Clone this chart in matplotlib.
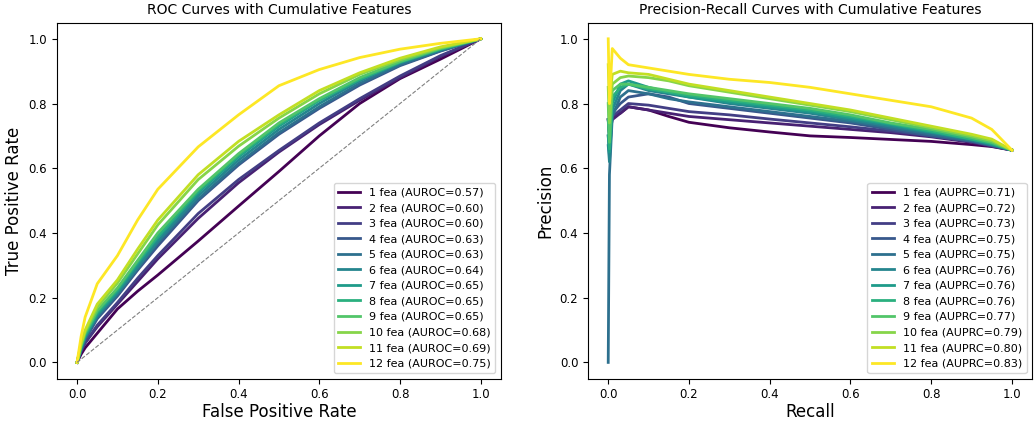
import numpy as np
import matplotlib
matplotlib.use("Agg")
import matplotlib.pyplot as plt

# ROC curves (tpr read at these fpr values)
fpr_grid = [0, 0.01, 0.02, 0.05, 0.1, 0.15, 0.2, 0.3, 0.4, 0.5, 0.6, 0.7, 0.8, 0.9, 1.0]
tpr_1 = [0, 0.025, 0.045, 0.09, 0.165, 0.22, 0.27, 0.375, 0.483, 0.59, 0.70, 0.80, 0.877, 0.937, 1.0]
tpr_2 = [0, 0.035, 0.06, 0.11, 0.18, 0.25, 0.32, 0.445, 0.555, 0.65, 0.735, 0.81, 0.88, 0.945, 1.0]
tpr_3 = [0, 0.035, 0.06, 0.115, 0.185, 0.26, 0.33, 0.46, 0.565, 0.655, 0.74, 0.815, 0.885, 0.948, 1.0]
tpr_4 = [0, 0.04, 0.07, 0.135, 0.205, 0.285, 0.36, 0.50, 0.61, 0.705, 0.785, 0.857, 0.917, 0.962, 1.0]
tpr_5 = [0, 0.04, 0.075, 0.14, 0.21, 0.29, 0.37, 0.505, 0.615, 0.71, 0.79, 0.862, 0.92, 0.963, 1.0]
tpr_6 = [0, 0.045, 0.08, 0.145, 0.215, 0.295, 0.375, 0.515, 0.625, 0.72, 0.80, 0.87, 0.925, 0.966, 1.0]
tpr_7 = [0, 0.045, 0.08, 0.15, 0.22, 0.305, 0.385, 0.525, 0.635, 0.73, 0.81, 0.875, 0.928, 0.968, 1.0]
tpr_8 = [0, 0.05, 0.085, 0.155, 0.225, 0.31, 0.39, 0.53, 0.64, 0.735, 0.81, 0.875, 0.928, 0.968, 1.0]
tpr_9 = [0, 0.05, 0.09, 0.16, 0.23, 0.315, 0.40, 0.535, 0.645, 0.74, 0.815, 0.88, 0.93, 0.97, 1.0]
tpr_10 = [0, 0.055, 0.095, 0.17, 0.245, 0.335, 0.425, 0.565, 0.668, 0.755, 0.83, 0.89, 0.935, 0.972, 1.0]
tpr_11 = [0, 0.06, 0.10, 0.18, 0.255, 0.35, 0.44, 0.58, 0.683, 0.765, 0.84, 0.895, 0.94, 0.975, 1.0]
tpr_12 = [0, 0.08, 0.14, 0.243, 0.33, 0.44, 0.535, 0.666, 0.765, 0.855, 0.905, 0.942, 0.968, 0.986, 1.0]
aurocs = [0.57, 0.60, 0.60, 0.63, 0.63, 0.64, 0.65, 0.65, 0.65, 0.68, 0.69, 0.75]

# PR curves (precision read at these recall values)
rec_grid = [0, 0.003, 0.01, 0.03, 0.05, 0.1, 0.15, 0.2, 0.3, 0.4, 0.5, 0.6, 0.7, 0.8, 0.9, 0.95, 1.0]
prec_1 = [0.75, 0.70, 0.76, 0.77, 0.79, 0.78, 0.76, 0.742, 0.725, 0.712, 0.70, 0.695, 0.689, 0.683, 0.673, 0.667, 0.656]
prec_2 = [0.75, 0.70, 0.75, 0.77, 0.79, 0.78, 0.77, 0.76, 0.75, 0.74, 0.73, 0.72, 0.71, 0.697, 0.68, 0.668, 0.656]
prec_3 = [0.75, 0.72, 0.76, 0.78, 0.80, 0.795, 0.785, 0.775, 0.765, 0.752, 0.74, 0.728, 0.715, 0.70, 0.683, 0.67, 0.656]
prec_4 = [0.70, 0.64, 0.77, 0.80, 0.82, 0.83, 0.82, 0.80, 0.785, 0.77, 0.755, 0.74, 0.72, 0.70, 0.683, 0.67, 0.656]
prec_5 = [0.0, 0.58, 0.76, 0.82, 0.84, 0.83, 0.815, 0.805, 0.79, 0.775, 0.76, 0.745, 0.725, 0.705, 0.685, 0.672, 0.656]
prec_6 = [0.67, 0.62, 0.78, 0.84, 0.86, 0.84, 0.83, 0.82, 0.80, 0.785, 0.77, 0.75, 0.73, 0.71, 0.688, 0.673, 0.656]
prec_7 = [0.70, 0.65, 0.80, 0.86, 0.87, 0.85, 0.835, 0.82, 0.805, 0.79, 0.775, 0.755, 0.735, 0.712, 0.69, 0.675, 0.656]
prec_8 = [0.75, 0.66, 0.82, 0.85, 0.86, 0.845, 0.835, 0.825, 0.81, 0.795, 0.78, 0.76, 0.738, 0.715, 0.69, 0.677, 0.656]
prec_9 = [0.80, 0.68, 0.84, 0.86, 0.86, 0.85, 0.84, 0.83, 0.815, 0.80, 0.785, 0.765, 0.74, 0.72, 0.695, 0.68, 0.656]
prec_10 = [0.85, 0.74, 0.86, 0.88, 0.885, 0.88, 0.87, 0.855, 0.835, 0.815, 0.795, 0.775, 0.75, 0.725, 0.70, 0.685, 0.656]
prec_11 = [0.92, 0.80, 0.89, 0.90, 0.895, 0.89, 0.875, 0.86, 0.84, 0.82, 0.80, 0.78, 0.755, 0.73, 0.705, 0.69, 0.656]
prec_12 = [1.0, 0.80, 0.97, 0.94, 0.92, 0.91, 0.90, 0.89, 0.875, 0.865, 0.85, 0.83, 0.81, 0.79, 0.755, 0.72, 0.656]
auprcs = [0.71, 0.72, 0.73, 0.75, 0.75, 0.76, 0.76, 0.76, 0.77, 0.79, 0.80, 0.83]

tprs = [tpr_1, tpr_2, tpr_3, tpr_4, tpr_5, tpr_6, tpr_7, tpr_8, tpr_9, tpr_10, tpr_11, tpr_12]
precs = [prec_1, prec_2, prec_3, prec_4, prec_5, prec_6, prec_7, prec_8, prec_9, prec_10, prec_11, prec_12]
colors = plt.cm.viridis(np.linspace(0, 1, 12))

fig = plt.figure(figsize=(10.34, 4.23), dpi=100)
ax1 = fig.add_axes([0.055, 0.105, 0.4295, 0.8415])
ax2 = fig.add_axes([0.5687, 0.105, 0.4295, 0.8415])

for i in range(12):
    ax1.plot(fpr_grid, tprs[i], color=colors[i], lw=2,
             label=f'{i + 1} fea (AUROC={aurocs[i]:.2f})')
ax1.plot([0, 1], [0, 1], color='gray', linestyle='--', lw=0.8)
ax1.set_title('ROC Curves with Cumulative Features', fontsize=10)
ax1.set_xlabel('False Positive Rate', fontsize=12, labelpad=1)
ax1.set_ylabel('True Positive Rate', fontsize=12)
ax1.tick_params(labelsize=8.5)
ax1.legend(loc='lower right', fontsize=8)

for i in range(12):
    ax2.plot(rec_grid, precs[i], color=colors[i], lw=2,
             label=f'{i + 1} fea (AUPRC={auprcs[i]:.2f})')
ax2.set_title('Precision-Recall Curves with Cumulative Features', fontsize=10)
ax2.set_xlabel('Recall', fontsize=12, labelpad=1)
ax2.set_ylabel('Precision', fontsize=12)
ax2.tick_params(labelsize=8.5)
ax2.legend(loc='lower right', fontsize=8)

fig.savefig('out.png', dpi=100)
